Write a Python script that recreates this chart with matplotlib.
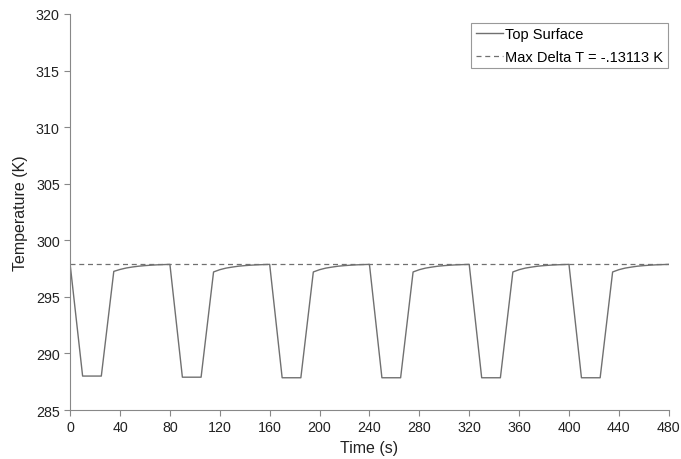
import matplotlib
matplotlib.use("Agg")
import matplotlib.pyplot as plt

plt.rcParams['font.family'] = ['Liberation Sans', 'DejaVu Sans']

# time (s) and top surface temperature (K)
time_s = [0, 10, 25, 35, 40, 45, 50, 55, 60, 65, 70, 75,
          80, 90, 105, 115, 120, 125, 130, 135, 140, 145, 150, 155,
          160, 170, 185, 195, 200, 205, 210, 215, 220, 225, 230, 235,
          240, 250, 265, 275, 280, 285, 290, 295, 300, 305, 310, 315,
          320, 330, 345, 355, 360, 365, 370, 375, 380, 385, 390, 395,
          400, 410, 425, 435, 440, 445, 450, 455, 460, 465, 470, 475,
          480]
top_surface = [297.87, 288.0, 288.0, 297.25, 297.42, 297.55, 297.64, 297.71, 297.76, 297.80, 297.83, 297.85,
               297.87, 287.9, 287.9, 297.2, 297.40, 297.54, 297.63, 297.71, 297.76, 297.80, 297.83, 297.85,
               297.87, 287.85, 287.85, 297.2, 297.40, 297.54, 297.63, 297.71, 297.76, 297.80, 297.83, 297.85,
               297.87, 287.85, 287.85, 297.2, 297.40, 297.54, 297.63, 297.71, 297.76, 297.80, 297.83, 297.85,
               297.87, 287.85, 287.85, 297.2, 297.40, 297.54, 297.63, 297.71, 297.76, 297.80, 297.83, 297.85,
               297.87, 287.85, 287.85, 297.2, 297.40, 297.54, 297.63, 297.71, 297.76, 297.80, 297.83, 297.85,
               297.87]
max_level = 297.87
x_ticks = list(range(0, 481, 40))
y_ticks = list(range(285, 321, 5))

fig = plt.figure(figsize=(6.81, 4.60), dpi=100)
ax = fig.add_axes([0.103, 0.1065, 0.879, 0.861])

ax.plot(time_s, top_surface, color='#707070', lw=1.0, label='Top Surface')
ax.axhline(max_level, color='#707070', lw=0.9, ls=(0, (4, 3)), label='Max Delta T = -.13113 K')

ax.set_xlim(0, 480)
ax.set_ylim(285, 320)
ax.set_xticks(x_ticks)
ax.set_yticks(y_ticks)
ax.set_xlabel('Time (s)', fontsize=11.5, color='#222222', labelpad=4)
ax.set_ylabel('Temperature (K)', fontsize=11.5, color='#222222', labelpad=6)

for s in ['top', 'right']:
    ax.spines[s].set_visible(False)
for s in ['left', 'bottom']:
    ax.spines[s].set_color('#888888')
ax.tick_params(direction='out', length=4, color='#888888', labelsize=10.3, labelcolor='#222222')

leg = ax.legend(loc='upper right', bbox_to_anchor=(0.9985, 0.978), fontsize=10.5,
                fancybox=False, framealpha=1, edgecolor='#999999',
                handlelength=1.9, handletextpad=0.15, borderpad=0.3, labelspacing=0.6,
                borderaxespad=0)
leg.get_frame().set_linewidth(0.8)

fig.savefig('out.png', dpi=100)
